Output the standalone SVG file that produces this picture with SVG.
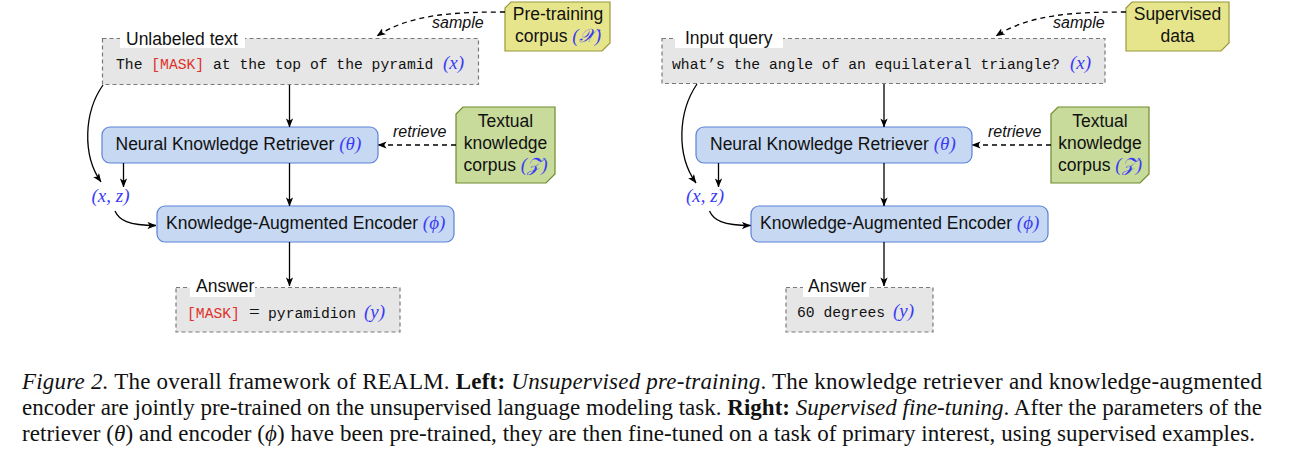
<svg xmlns="http://www.w3.org/2000/svg" width="1297" height="456" viewBox="0 0 1297 456">
<defs>
<style>
.mono{font-family:"Liberation Mono",monospace;font-size:14.7px;fill:#111}
.sans{font-family:"Liberation Sans",Arial,sans-serif;font-size:17.5px;fill:#111}
.it{font-family:"Liberation Sans",Arial,sans-serif;font-style:italic;font-size:16px;fill:#111}
.math{font-family:"Liberation Serif","DejaVu Serif",serif;font-style:italic;font-size:19px;fill:#3b3bf5}
.eq{font-family:"Liberation Serif",serif;font-size:19px;fill:#111}
.red{fill:#e0302a}
.dbox{fill:#e6e6e6;stroke:#7a7a7a;stroke-width:1.2;stroke-dasharray:4 3}
.blue{fill:#c6d8f2;stroke:#5d82d9;stroke-width:1.2}
.yel{fill:#e7e58b;stroke:#9a983a;stroke-width:1.2}
.grn{fill:#c8db9b;stroke:#6e8c2e;stroke-width:1.2}
.lbg{fill:#fff}
.conn path{fill:none;stroke:#000;stroke-width:1.3}
.conn path.dash{stroke-dasharray:5 4}
.cap{font-family:"Liberation Serif","Times New Roman",serif;font-size:23px;fill:#111}
.ci{font-style:italic}
.cb{font-weight:bold}
</style>
<marker id="ah" viewBox="0 0 10 8" refX="9.5" refY="4" markerWidth="9" markerHeight="7.2" markerUnits="userSpaceOnUse" orient="auto">
<path d="M0,0 L10,4 L0,8 L2.5,4 z" fill="#000"/>
</marker>
</defs>
<rect width="1297" height="456" fill="#fff"/>

<!-- Left panel -->
<g id="pretrain-corpus">
<polygon class="yel" points="511,2 610,2 610,43 602,51 505,51 505,8"/>
<text class="sans" x="558" y="20" text-anchor="middle">Pre-training</text>
<text class="sans" x="558" y="42" text-anchor="middle">corpus <tspan class="math">(𝒳)</tspan></text>
</g>
<g id="unlabeled-text">
<rect class="dbox" x="102.5" y="38.5" width="376" height="46"/>
<rect class="lbg" x="120" y="30" width="125" height="18"/>
<text class="sans" x="126" y="45">Unlabeled text</text>
<text class="mono" x="116" y="69">The <tspan class="red">[MASK]</tspan> at the top of the pyramid</text>
<text class="math" x="443" y="69">(x)</text>
</g>
<g id="retriever-left">
<rect class="blue" x="102" y="127" width="276" height="36" rx="8"/>
<text class="sans" x="115.5" y="150">Neural Knowledge Retriever <tspan class="math">(θ)</tspan></text>
</g>
<g id="textual-corpus-left">
<polygon class="grn" points="463,107 555,107 555,174 546,183 456,183 456,114"/>
<text class="sans" x="505.5" y="127" text-anchor="middle">Textual</text>
<text class="sans" x="505.5" y="149" text-anchor="middle">knowledge</text>
<text class="sans" x="505.5" y="171" text-anchor="middle">corpus <tspan class="math">(𝒵)</tspan></text>
</g>
<g id="xz-left">
<text class="math" x="91.5" y="202">(x, z)</text>
</g>
<g id="encoder-left">
<rect class="blue" x="157" y="206" width="297" height="36" rx="8"/>
<text class="sans" x="166" y="229">Knowledge-Augmented Encoder <tspan class="math">(ϕ)</tspan></text>
</g>
<g id="answer-left">
<rect class="dbox" x="176" y="287.5" width="224" height="44.5"/>
<rect class="lbg" x="190" y="280" width="65" height="17"/>
<text class="sans" x="196" y="292">Answer</text>
<text class="mono red" x="187" y="318">[MASK]</text>
<text class="eq" x="249" y="318">=</text>
<text class="mono" x="268" y="318">pyramidion</text>
<text class="math" x="364" y="318">(y)</text>
</g>
<g id="sample-left-label"><text class="it" x="432" y="28">sample</text></g>
<g id="retrieve-left-label"><text class="it" x="393" y="137">retrieve</text></g>

<!-- Right panel -->
<g id="supervised-data">
<polygon class="yel" points="1132,2 1229,2 1229,43 1221,51 1126,51 1126,8"/>
<text class="sans" x="1177.5" y="20" text-anchor="middle">Supervised</text>
<text class="sans" x="1177.5" y="42" text-anchor="middle">data</text>
</g>
<g id="input-query">
<rect class="dbox" x="662" y="38.5" width="443" height="45"/>
<rect class="lbg" x="675" y="30" width="108" height="18"/>
<text class="sans" x="685" y="44">Input query</text>
<text class="mono" x="672" y="69">what’s the angle of an equilateral triangle?</text>
<text class="math" x="1070" y="69">(x)</text>
</g>
<g id="retriever-right">
<rect class="blue" x="696" y="127" width="276" height="36" rx="8"/>
<text class="sans" x="710" y="150">Neural Knowledge Retriever <tspan class="math">(θ)</tspan></text>
</g>
<g id="textual-corpus-right">
<polygon class="grn" points="1058,107 1149,107 1149,174 1140,183 1051,183 1051,114"/>
<text class="sans" x="1100" y="127" text-anchor="middle">Textual</text>
<text class="sans" x="1100" y="149" text-anchor="middle">knowledge</text>
<text class="sans" x="1100" y="171" text-anchor="middle">corpus <tspan class="math">(𝒵)</tspan></text>
</g>
<g id="xz-right">
<text class="math" x="686" y="202">(x, z)</text>
</g>
<g id="encoder-right">
<rect class="blue" x="751" y="206" width="297" height="36" rx="8"/>
<text class="sans" x="760" y="229">Knowledge-Augmented Encoder <tspan class="math">(ϕ)</tspan></text>
</g>
<g id="answer-right">
<rect class="dbox" x="786" y="287.5" width="147" height="44.5"/>
<rect class="lbg" x="803" y="280" width="66" height="17"/>
<text class="sans" x="808" y="292">Answer</text>
<text class="mono" x="797" y="317">60 degrees</text>
<text class="math" x="893" y="317">(y)</text>
</g>
<g id="sample-right-label"><text class="it" x="1053" y="28">sample</text></g>
<g id="retrieve-right-label"><text class="it" x="988" y="137">retrieve</text></g>

<g id="connectors" class="conn">
<path d="M289.5,85 L289.5,127" marker-end="url(#ah)"/>
<path d="M289.5,163 L289.5,206" marker-end="url(#ah)"/>
<path d="M289.5,242 L289.5,286" marker-end="url(#ah)"/>
<path d="M123.5,163 L123.5,187" marker-end="url(#ah)"/>
<path d="M103,85 C84,112 82,155 101,182" marker-end="url(#ah)"/>
<path d="M115,211 C119,220 128,225.5 156,225.5" marker-end="url(#ah)"/>
<path class="dash" d="M456,145 L378,145" marker-end="url(#ah)"/>
<path class="dash" d="M505,12 C455,12 410,14 377,36" marker-end="url(#ah)"/>
<path d="M884,84 L884,127" marker-end="url(#ah)"/>
<path d="M884,163 L884,206" marker-end="url(#ah)"/>
<path d="M884,242 L884,286" marker-end="url(#ah)"/>
<path d="M718.5,163 L718.5,187" marker-end="url(#ah)"/>
<path d="M697,84 C678,112 676,155 696,183" marker-end="url(#ah)"/>
<path d="M709.5,211 C713.5,220 722.5,225.5 750.5,225.5" marker-end="url(#ah)"/>
<path class="dash" d="M1051,145 L972,145" marker-end="url(#ah)"/>
<path class="dash" d="M1126,12 C1075,12 1030,14 996,36" marker-end="url(#ah)"/>
</g>

<g id="caption">
<text class="cap" x="22" y="389" textLength="1240" lengthAdjust="spacing"><tspan class="ci">Figure 2.</tspan> The overall framework of REALM. <tspan class="cb">Left:</tspan> <tspan class="ci">Unsupervised pre-training</tspan>.  The knowledge retriever and knowledge-augmented</text>
<text class="cap" x="22" y="415" textLength="1240" lengthAdjust="spacing">encoder are jointly pre-trained on the unsupervised language modeling task. <tspan class="cb">Right:</tspan> <tspan class="ci">Supervised fine-tuning</tspan>. After the parameters of the</text>
<text class="cap" x="22" y="441" textLength="1233" lengthAdjust="spacing">retriever (<tspan class="ci">θ</tspan>) and encoder (<tspan class="ci">ϕ</tspan>) have been pre-trained, they are then fine-tuned on a task of primary interest, using supervised examples.</text>
</g>
</svg>
